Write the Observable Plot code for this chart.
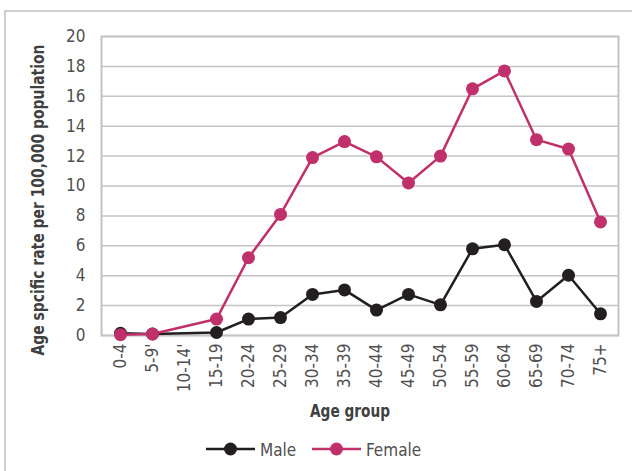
<!DOCTYPE html>
<html>
<head>
<meta charset="utf-8">
<script src="https://cdn.jsdelivr.net/npm/d3@7"></script>
<script src="https://cdn.jsdelivr.net/npm/@observablehq/plot@0.6"></script>
<style>
  html, body { margin: 0; padding: 0; background: #fff; }
  body { width: 632px; height: 471px; position: relative; overflow: hidden;
         font-family: "Liberation Sans Narrow", "Arial Narrow", "DejaVu Sans Condensed", sans-serif; }
  #frame { position: absolute; left: 4px; top: 10px; width: 700px; height: 520px;
           border: 2px solid #cfcfcf; box-sizing: border-box; }
  #chart { position: absolute; left: 0; top: 0; }
  #legend { position: absolute; left: 0; top: 436px; width: 632px; height: 26px; }
  #legend text { font-size: 17px; fill: #505050; }
</style>
</head>
<body>
<div id="frame"></div>
<div id="chart"></div>
<svg id="legend" width="632" height="26"></svg>
<script>
const ageGroups = ["0-4","5-9'","10-14'","15-19","20-24","25-29","30-34","35-39","40-44","45-49","50-54","55-59","60-64","65-69","70-74","75+"];
const maleRates =   [0.15, 0.1, null, 0.2, 1.1, 1.2, 2.75, 3.05, 1.7, 2.75, 2.05, 5.8, 6.07, 2.28, 4.03, 1.45];
const femaleRates = [0.05, 0.1, null, 1.1, 5.2, 8.1, 11.9, 12.97, 11.95, 10.2, 12.0, 16.5, 17.7, 13.1, 12.47, 7.6];
const yTicks = [0,2,4,6,8,10,12,14,16,18,20];
const seriesNames = ["Male","Female"];
const seriesColors = ["#231f20","#c0306a"];
const yTitle = "Age spcific rate per 100,000 population";
const xTitle = "Age group";

const rows = [];
seriesNames.forEach((s, si) => {
  const vals = si === 0 ? maleRates : femaleRates;
  ageGroups.forEach((g, i) => { if (vals[i] != null) rows.push({series: s, group: g, rate: vals[i]}); });
});

const FONT = '"Liberation Sans Narrow", "Arial Narrow", "DejaVu Sans Condensed", sans-serif';
const chart = Plot.plot({
  width: 632,
  height: 430,
  marginLeft: 101,
  marginRight: 14,
  marginTop: 36,
  marginBottom: 95,
  style: {fontFamily: FONT, fontSize: "17px", color: "#505050", background: "transparent"},
  x: {type: "point", domain: ageGroups, padding: 0.5},
  y: {domain: [0, 20]},
  color: {domain: seriesNames, range: seriesColors},
  marks: [
    Plot.gridY(yTicks, {stroke: "#c4c4c4", strokeOpacity: 1, strokeWidth: 1.5}),
    Plot.frame({stroke: "#c4c4c4", strokeWidth: 2}),
    Plot.axisY({ticks: yTicks, tickSize: 0, tickPadding: 16, fill: "#505050", label: null}),
    Plot.axisX({tickSize: 0, tickPadding: 8, tickRotate: -90, fill: "#505050", label: null}),
    Plot.line(rows, {x: "group", y: "rate", z: "series", stroke: "series", strokeWidth: 2.5}),
    Plot.dot(rows, {x: "group", y: "rate", fill: "series", r: 6.5})
  ]
});
document.getElementById("chart").appendChild(chart);

// axis titles (bold, condensed to the reference widths)
const svg = d3.select(chart);
svg.append("text")
  .attr("transform", "translate(44,200) rotate(-90)")
  .attr("text-anchor", "middle")
  .attr("font-weight", "bold").attr("font-size", 17).attr("fill", "#404040")
  .attr("textLength", 311).attr("lengthAdjust", "spacingAndGlyphs")
  .text(yTitle);
svg.append("text")
  .attr("x", 350).attr("y", 417)
  .attr("text-anchor", "middle")
  .attr("font-weight", "bold").attr("font-size", 17).attr("fill", "#404040")
  .attr("textLength", 80).attr("lengthAdjust", "spacingAndGlyphs")
  .text(xTitle);

// legend
const lg = d3.select("#legend");
const items = [{x: 206, w: 49}, {x: 312, w: 49}];
seriesNames.forEach((s, i) => {
  const it = items[i];
  const g = lg.append("g");
  g.append("line").attr("x1", it.x).attr("x2", it.x + it.w).attr("y1", 13).attr("y2", 13)
    .attr("stroke", seriesColors[i]).attr("stroke-width", 2.5);
  g.append("circle").attr("cx", it.x + it.w / 2).attr("cy", 13).attr("r", 6.5).attr("fill", seriesColors[i]);
  g.append("text").attr("x", it.x + it.w + 5).attr("y", 20).text(s);
});
</script>
</body>
</html>
